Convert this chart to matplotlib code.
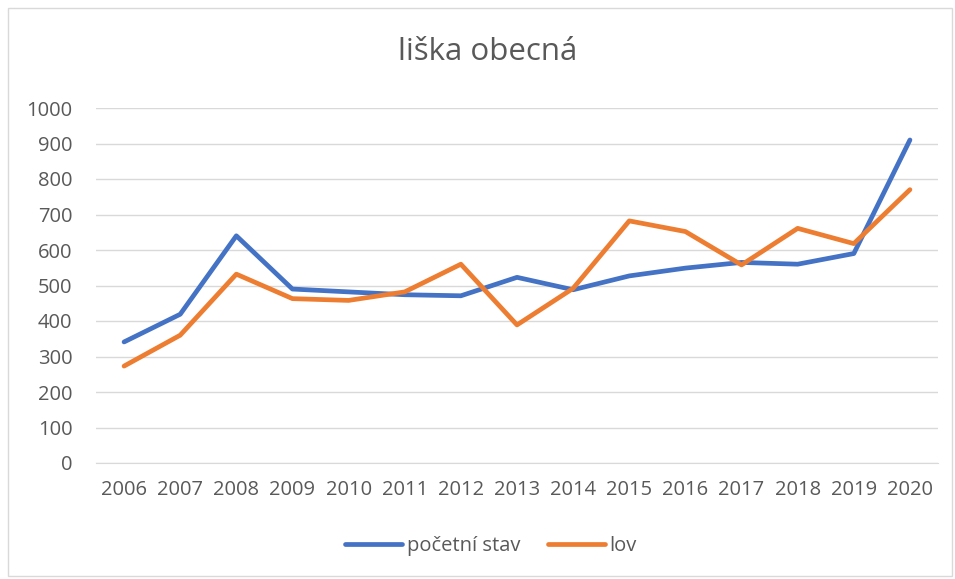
import matplotlib
matplotlib.use("Agg")
import matplotlib.pyplot as plt
from matplotlib.patches import Rectangle

# data
years = ["2006", "2007", "2008", "2009", "2010", "2011", "2012", "2013",
         "2014", "2015", "2016", "2017", "2018", "2019", "2020"]
pocetni_stav = [341, 419, 640, 490, 482, 474, 471, 523,
                488, 527, 549, 565, 560, 590, 910]
lov = [273, 360, 532, 463, 458, 482, 560, 389,
       492, 682, 652, 558, 661, 618, 770]
y_ticks = [0, 100, 200, 300, 400, 500, 600, 700, 800, 900, 1000]

plt.rcParams["font.family"] = ["Open Sans", "DejaVu Sans"]
text_color = "#595959"

fig = plt.figure(figsize=(9.55, 5.79), dpi=100)
ax = fig.add_axes([96 / 955, 1 - 463 / 579, (938 - 96) / 955, (463 - 108) / 579])

x = list(range(len(years)))
ax.plot(x, pocetni_stav, color="#4472C4", linewidth=3.4,
        solid_capstyle="round", solid_joinstyle="round", label="početní stav")
ax.plot(x, lov, color="#ED7D31", linewidth=3.4,
        solid_capstyle="round", solid_joinstyle="round", label="lov")

ax.set_xlim(-0.5, len(years) - 0.5)
ax.set_ylim(0, 1000)
ax.set_yticks(y_ticks)
ax.set_xticks(x)
ax.set_xticklabels(years)
ax.grid(axis="y", color="#D9D9D9", linewidth=1.0)
ax.set_axisbelow(True)
for side in ["top", "right", "left"]:
    ax.spines[side].set_visible(False)
ax.spines["bottom"].set_color("#D9D9D9")
ax.tick_params(axis="both", length=0, labelsize=14.5, colors=text_color)
ax.tick_params(axis="x", pad=12)
ax.tick_params(axis="y", pad=17)

fig.text(488 / 955, 1 - 52 / 579, "liška obecná", ha="center", va="center",
         fontsize=22.5, color=text_color)

fig.legend(loc="center", bbox_to_anchor=(491 / 955, 1 - 546 / 579), ncol=2,
           frameon=False, fontsize=14.5, labelcolor=text_color,
           handlelength=2.8, handletextpad=0.25, columnspacing=1.4)

fig.patches.append(Rectangle((8 / 955, 3 / 579), 944 / 955, 568 / 579,
                             transform=fig.transFigure, fill=False,
                             edgecolor="#D9D9D9", linewidth=1))

fig.savefig("out.png", dpi=100)
